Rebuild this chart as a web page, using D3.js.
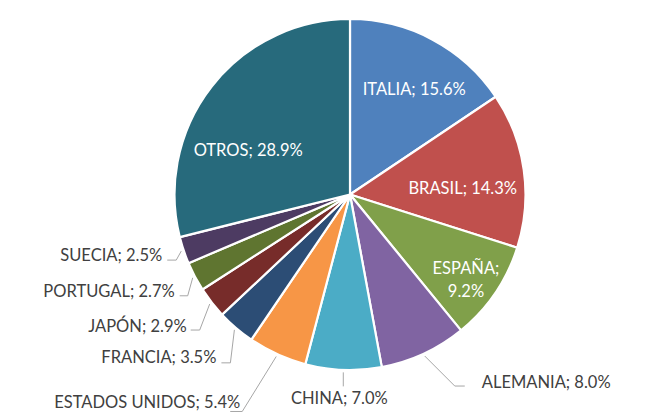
<!DOCTYPE html>
<html>
<head>
<meta charset="utf-8">
<script src="https://cdn.jsdelivr.net/npm/d3@7"></script>
<style>
html,body{margin:0;padding:0;background:#fff;}
svg{display:block;}
text{font-family:Lato,"Open Sans",sans-serif;}
</style>
</head>
<body>
<svg id="chart" width="649" height="418"></svg>
<script>
// ---- data ----
const categories = ["ITALIA","BRASIL","ESPAÑA","ALEMANIA","CHINA","ESTADOS UNIDOS","FRANCIA","JAPÓN","PORTUGAL","SUECIA","OTROS"];
const values = [15.6,14.3,9.2,8.0,7.0,5.4,3.5,2.9,2.7,2.5,28.9];
const colors = ["#4f81bd","#c0504d","#80a04a","#8064a2","#4bacc6","#f79646","#2c4d75","#772c2a","#5f7530","#4d3b62","#276a7c"];

// ---- layout ----
const W = 649, H = 418;
const cx = 350, cy = 194.5, R = 175.5;
const fontSize = 16.5;

// inside labels: offsets from centroid (px); lines split
const insideLayout = {
  "ITALIA":  {dx: 13, dy: -9, lines: 1},
  "BRASIL":  {dx: 5,  dy: 9,  lines: 1},
  "ESPAÑA":  {dx: 26, dy: 21, lines: 2},
  "OTROS":   {dx: -16,dy: 23, lines: 1}
};
// outside labels: elbow offset from leader start, horizontal tail, text placement
const outsideLayout = {
  "ALEMANIA":       {ex: 30, ey: 30, h: 10,  side: "right", tx: 17, ty: -4},
  "CHINA":          {ex: 0,  ey: 14, h: 0,   side: "center", tx: -4, ty: 12},
  "ESTADOS UNIDOS": {ex: -34,ey: 55, h: -12, side: "left", tx: 10, ty: -9},
  "FRANCIA":        {ex: -4, ey: 33, h: -9,  side: "left", tx: -5, ty: -6},
  "JAPÓN":          {ex: -10,ey: 26, h: -9,  side: "left", tx: -4, ty: -4},
  "PORTUGAL":       {ex: -5, ey: 18, h: -8,  side: "left", tx: -5, ty: -5},
  "SUECIA":         {ex: -5, ey: 9,  h: -9,  side: "left", tx: -5, ty: -5}
};

const data = categories.map((c,i)=>({name:c, value:values[i], color:colors[i]}));

const svg = d3.select("#chart");
const g = svg.append("g").attr("transform", `translate(${cx},${cy})`);

const pie = d3.pie().value(d=>d.value).sort(null).startAngle(0).endAngle(2*Math.PI);
const arc = d3.arc().innerRadius(0).outerRadius(R);
const arcs = pie(data);

g.selectAll("path.slice").data(arcs).join("path")
  .attr("class","slice")
  .attr("d", arc)
  .attr("fill", d=>d.data.color)
  .attr("stroke", "#fff")
  .attr("stroke-width", 2.2)
  .attr("stroke-linejoin","round");

const fmt = v => v.toFixed(1) + "%";
const centroidArc = d3.arc().innerRadius(R*0.62).outerRadius(R*0.62);
const leaderArc = d3.arc().innerRadius(R+2.5).outerRadius(R+2.5);

arcs.forEach(a=>{
  const name = a.data.name;
  if (insideLayout[name]) {
    const L = insideLayout[name];
    const [x,y] = centroidArc.centroid(a);
    const t = g.append("text")
      .attr("fill","#fff")
      .attr("font-size", fontSize)
      .attr("text-anchor","middle")
      .attr("x", x+L.dx).attr("y", y+L.dy);
    if (L.lines === 2) {
      t.append("tspan").attr("x", x+L.dx).attr("dy","-0.15em").text(name + ";");
      t.append("tspan").attr("x", x+L.dx).attr("dy","1.4em").text(fmt(a.data.value));
    } else {
      t.attr("dy","0.35em").text(name + "; " + fmt(a.data.value));
    }
  } else if (outsideLayout[name]) {
    const L = outsideLayout[name];
    const [sx,sy] = leaderArc.centroid(a);
    const ex = sx + L.ex, ey = sy + L.ey;
    const hx = ex + L.h;
    const pts = [[sx,sy],[ex,ey]];
    if (L.h !== 0) pts.push([hx,ey]);
    g.append("path")
      .attr("d", d3.line()(pts))
      .attr("fill","none")
      .attr("stroke","#a6a6a6")
      .attr("stroke-width",1);
    let anchor, tx;
    if (L.side === "right") { anchor = "start"; tx = hx + L.tx; }
    else if (L.side === "left") { anchor = "end"; tx = hx + L.tx; }
    else { anchor = "middle"; tx = ex + L.tx; }
    g.append("text")
      .attr("fill","#404040")
      .attr("font-size", fontSize)
      .attr("text-anchor", anchor)
      .attr("x", tx)
      .attr("y", ey + L.ty)
      .attr("dy","0.35em")
      .text(name + "; " + fmt(a.data.value));
  }
});
</script>
</body>
</html>
